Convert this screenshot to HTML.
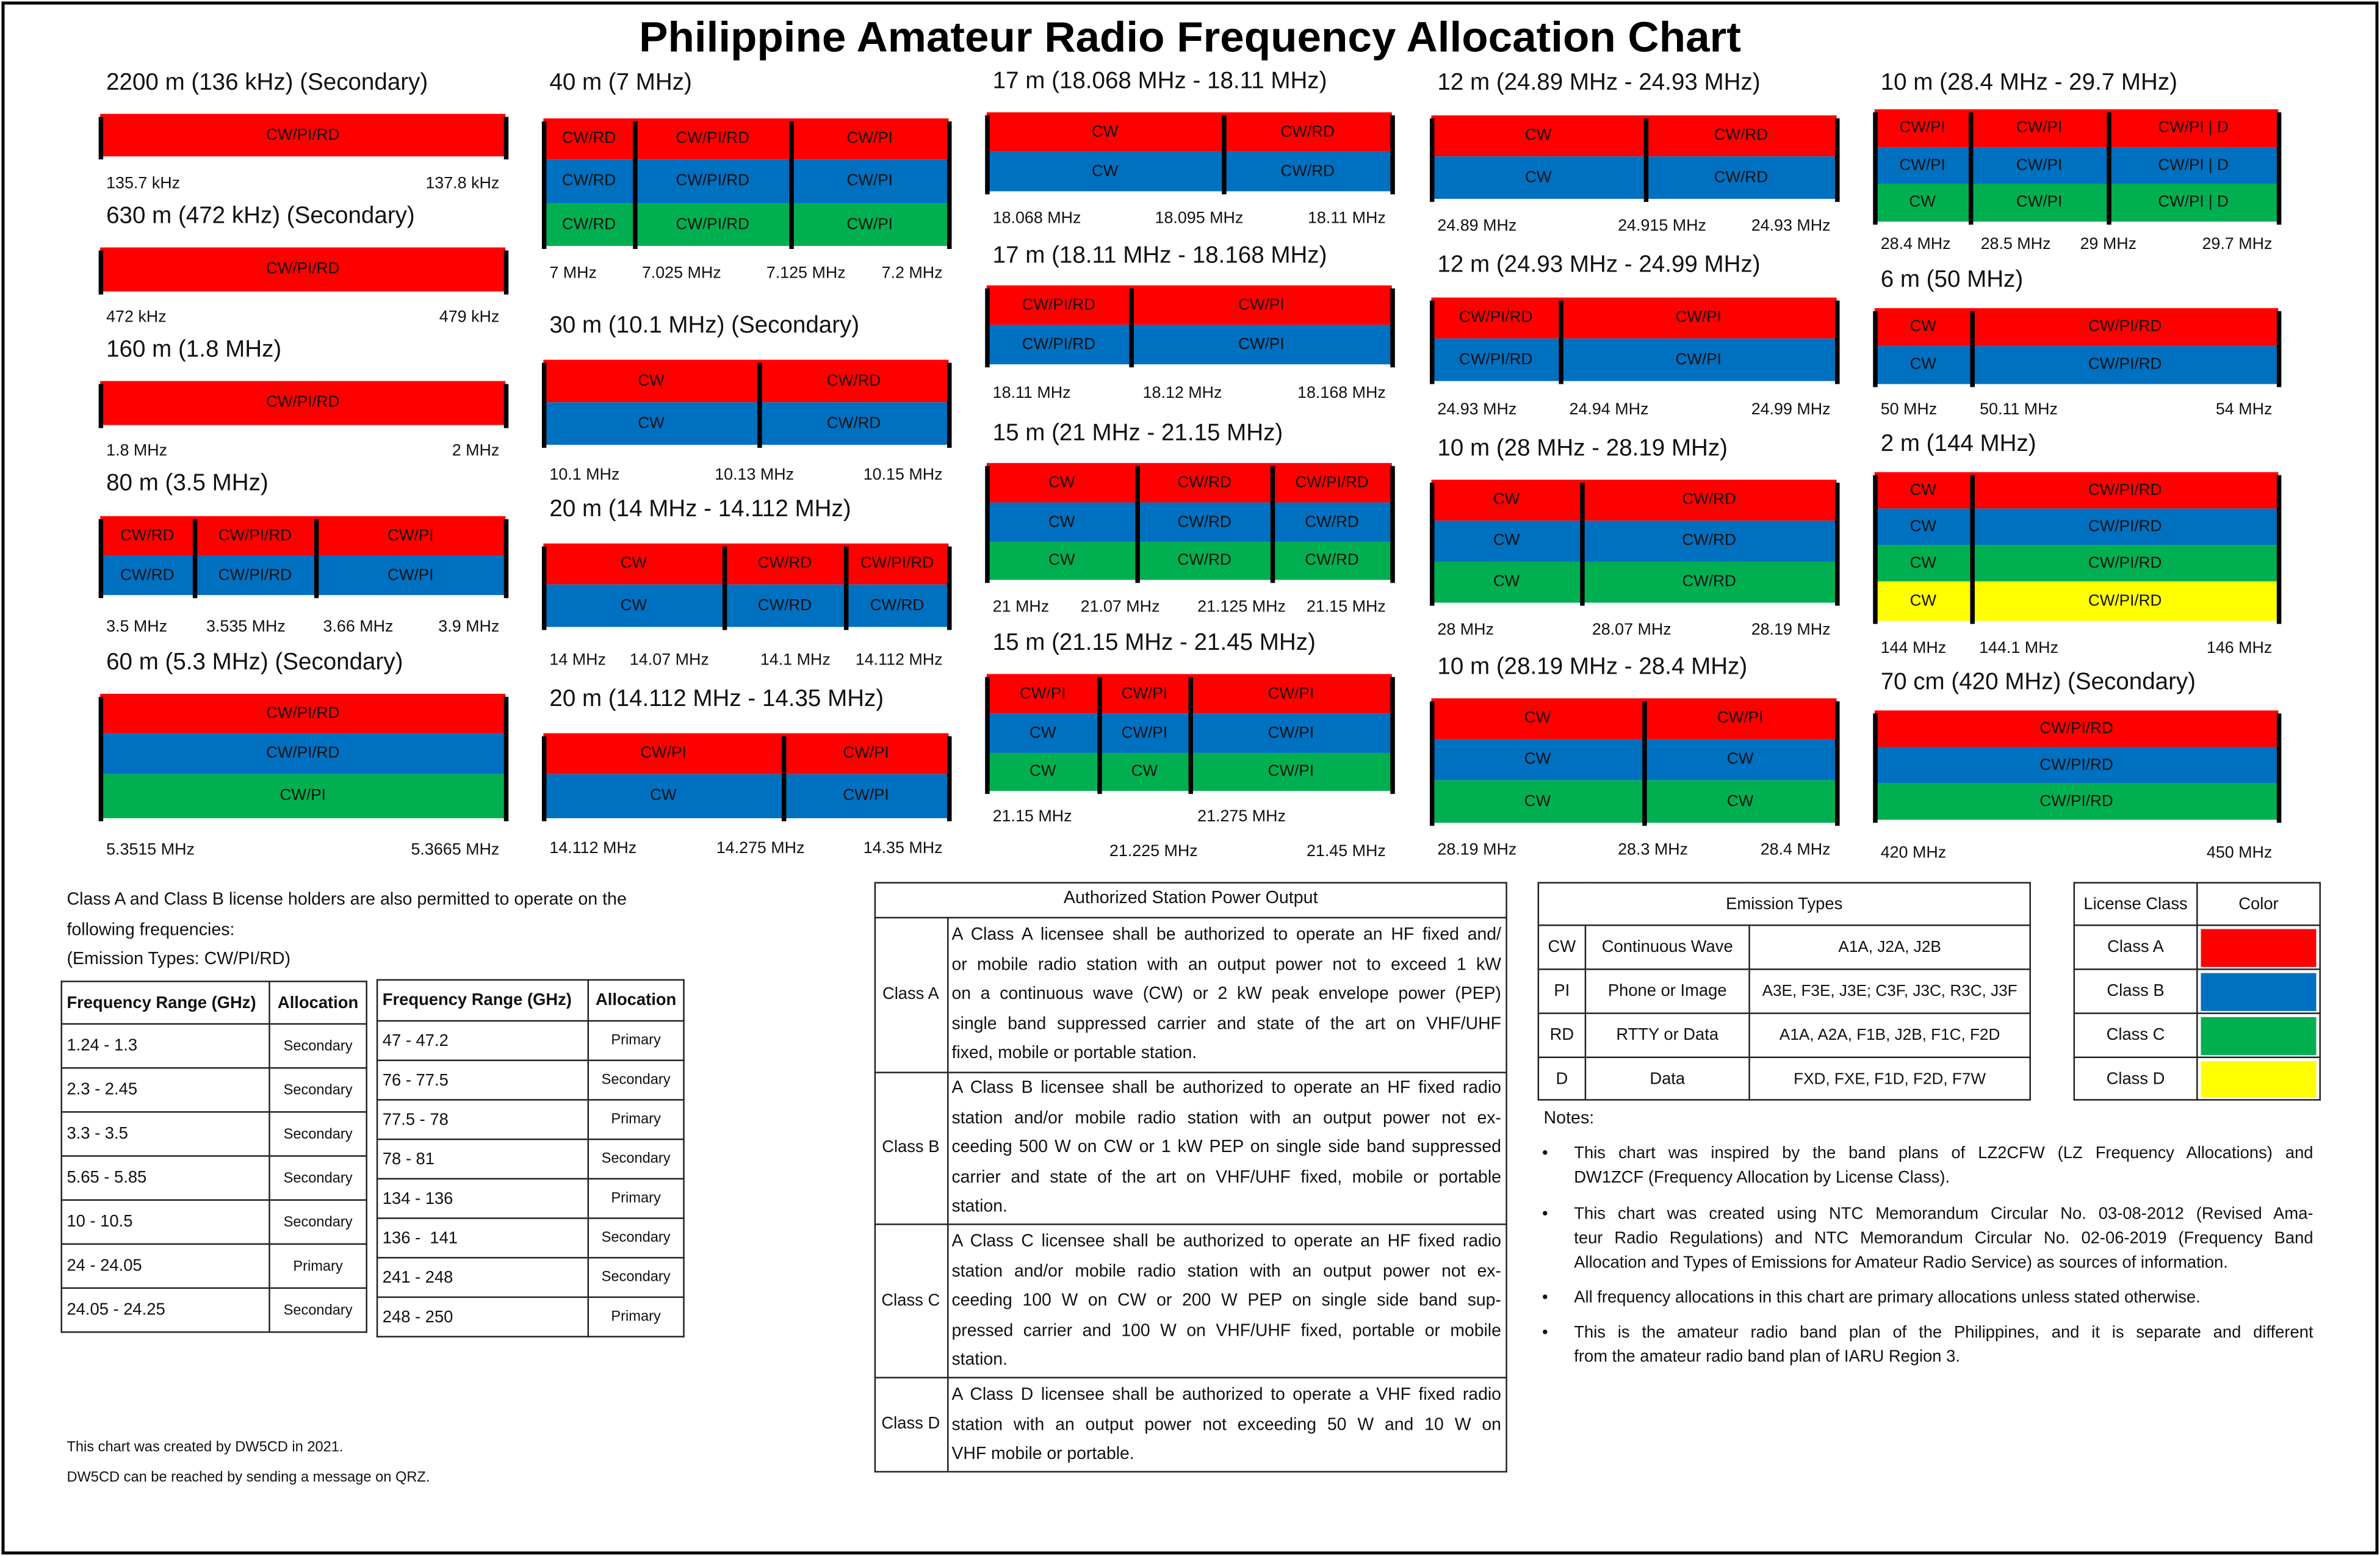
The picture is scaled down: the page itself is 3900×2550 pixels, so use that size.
<!DOCTYPE html>
<html><head><meta charset="utf-8">
<style>
html,body{margin:0;padding:0;background:#fff;}
body{width:3900px;height:2550px;overflow:hidden;position:relative;}
#stage{position:absolute;left:0;top:0;width:1568px;height:1025px;transform-origin:0 0;transform:scale(2.48724,2.4878);font-family:"Liberation Sans",sans-serif;color:#111;}
.a{position:absolute;white-space:nowrap;}
.t{position:absolute;white-space:nowrap;height:20px;line-height:20px;}
.j{text-align:justify;text-align-last:justify;}
table{border-collapse:collapse;position:absolute;}
td{border:1px solid #222;padding:0;}
</style></head>
<body>
<div id="stage">
<div class="a" style="left:1px;top:1px;width:1562px;height:1019px;border:2px solid #000;"></div>
<svg class="a" style="left:0;top:5px" width="1568" height="40"><text x="784" y="29" text-anchor="middle" font-family="Liberation Sans, sans-serif" font-weight="bold" font-size="28" textLength="726" lengthAdjust="spacingAndGlyphs" fill="#000">Philippine Amateur Radio Frequency Allocation Chart</text></svg>

<div class="t" style="left:44px;top:583px;font-size:11.5px">Class A and Class B license holders are also permitted to operate on the</div>
<div class="t" style="left:44px;top:603px;font-size:11.5px">following frequencies:</div>
<div class="t" style="left:44px;top:622px;font-size:11.5px">(Emission Types: CW/PI/RD)</div>

<table style="left:40px;top:646px;width:202px;font-size:11px">
<tr style="height:28px;font-weight:bold"><td style="padding-left:3px;width:133px">Frequency Range (GHz)</td><td style="text-align:center">Allocation</td></tr>
<tr style="height:29px"><td style="padding-left:3px">1.24 - 1.3</td><td style="text-align:center;font-size:9.5px">Secondary</td></tr>
<tr style="height:29px"><td style="padding-left:3px">2.3 - 2.45</td><td style="text-align:center;font-size:9.5px">Secondary</td></tr>
<tr style="height:29px"><td style="padding-left:3px">3.3 - 3.5</td><td style="text-align:center;font-size:9.5px">Secondary</td></tr>
<tr style="height:29px"><td style="padding-left:3px">5.65 - 5.85</td><td style="text-align:center;font-size:9.5px">Secondary</td></tr>
<tr style="height:29px"><td style="padding-left:3px">10 - 10.5</td><td style="text-align:center;font-size:9.5px">Secondary</td></tr>
<tr style="height:29px"><td style="padding-left:3px">24 - 24.05</td><td style="text-align:center;font-size:9.5px">Primary</td></tr>
<tr style="height:29px"><td style="padding-left:3px">24.05 - 24.25</td><td style="text-align:center;font-size:9.5px">Secondary</td></tr>
</table>

<table style="left:248px;top:645px;width:203px;font-size:11px">
<tr style="height:27px;font-weight:bold"><td style="padding-left:3px;width:135px">Frequency Range (GHz)</td><td style="text-align:center">Allocation</td></tr>
<tr style="height:26px"><td style="padding-left:3px">47 - 47.2</td><td style="text-align:center;font-size:9.5px">Primary</td></tr>
<tr style="height:26px"><td style="padding-left:3px">76 - 77.5</td><td style="text-align:center;font-size:9.5px">Secondary</td></tr>
<tr style="height:26px"><td style="padding-left:3px">77.5 - 78</td><td style="text-align:center;font-size:9.5px">Primary</td></tr>
<tr style="height:26px"><td style="padding-left:3px">78 - 81</td><td style="text-align:center;font-size:9.5px">Secondary</td></tr>
<tr style="height:26px"><td style="padding-left:3px">134 - 136</td><td style="text-align:center;font-size:9.5px">Primary</td></tr>
<tr style="height:26px"><td style="padding-left:3px">136 -&nbsp; 141</td><td style="text-align:center;font-size:9.5px">Secondary</td></tr>
<tr style="height:26px"><td style="padding-left:3px">241 - 248</td><td style="text-align:center;font-size:9.5px">Secondary</td></tr>
<tr style="height:26px"><td style="padding-left:3px">248 - 250</td><td style="text-align:center;font-size:9.5px">Primary</td></tr>
</table>

<div class="t" style="left:44px;top:944px;font-size:9.5px">This chart was created by DW5CD in 2021.</div>
<div class="t" style="left:44px;top:964px;font-size:9.5px">DW5CD can be reached by sending a message on QRZ.</div>

<div class="a" style="left:576px;top:581px;width:415px;height:387px;border:1px solid #222;"></div>
<div class="a" style="left:576px;top:604px;width:417px;height:1px;background:#222"></div>
<div class="a" style="left:576px;top:706px;width:417px;height:1px;background:#222"></div>
<div class="a" style="left:576px;top:806px;width:417px;height:1px;background:#222"></div>
<div class="a" style="left:576px;top:907px;width:417px;height:1px;background:#222"></div>
<div class="a" style="left:624px;top:604px;width:1px;height:365px;background:#222"></div>
<div class="t" style="left:576px;top:582px;width:417px;text-align:center;font-size:11.5px">Authorized Station Power Output</div>
<div class="t" style="left:576px;top:645px;width:48px;text-align:center;font-size:11px">Class A</div>
<div class="t" style="left:576px;top:746px;width:48px;text-align:center;font-size:11px">Class B</div>
<div class="t" style="left:576px;top:847px;width:48px;text-align:center;font-size:11px">Class C</div>
<div class="t" style="left:576px;top:928px;width:48px;text-align:center;font-size:11px">Class D</div>
<div id="powertext"></div>

<table style="left:1013px;top:581px;width:325px;font-size:11px">
<tr style="height:28px"><td colspan="3" style="text-align:center">Emission Types</td></tr>
<tr style="height:29px"><td style="width:30px;text-align:center">CW</td><td style="width:107px;text-align:center">Continuous Wave</td><td style="text-align:center;font-size:10.5px">A1A, J2A, J2B</td></tr>
<tr style="height:29px"><td style="text-align:center">PI</td><td style="text-align:center">Phone or Image</td><td style="text-align:center;font-size:10.5px">A3E, F3E, J3E; C3F, J3C, R3C, J3F</td></tr>
<tr style="height:29px"><td style="text-align:center">RD</td><td style="text-align:center">RTTY or Data</td><td style="text-align:center;font-size:10.5px">A1A, A2A, F1B, J2B, F1C, F2D</td></tr>
<tr style="height:28px"><td style="text-align:center">D</td><td style="text-align:center">Data</td><td style="text-align:center;font-size:10.5px">FXD, FXE, F1D, F2D, F7W</td></tr>
</table>

<table style="left:1366px;top:581px;width:163px;font-size:11px">
<tr style="height:28px"><td style="width:80px;text-align:center">License Class</td><td style="text-align:center">Color</td></tr>
<tr style="height:29px"><td style="text-align:center">Class A</td><td><div style="margin:1px 2px;height:25px;background:#ff0000"></div></td></tr>
<tr style="height:29px"><td style="text-align:center">Class B</td><td><div style="margin:1px 2px;height:25px;background:#0070c0"></div></td></tr>
<tr style="height:29px"><td style="text-align:center">Class C</td><td><div style="margin:1px 2px;height:25px;background:#00b050"></div></td></tr>
<tr style="height:28px"><td style="text-align:center">Class D</td><td><div style="margin:1px 2px;height:24px;background:#ffff00"></div></td></tr>
</table>

<div class="t" style="left:1017px;top:727px;font-size:11.5px">Notes:</div>
<div id="notes"></div>
<div id="bands"></div>
</div>

<script>
const R = "#ff0000", B = "#0070c0", G = "#00b050", Y = "#ffff00";
const bandTitles = [
 "2200 m (136 kHz) (Secondary)","630 m (472 kHz) (Secondary)","160 m (1.8 MHz)","80 m (3.5 MHz)","60 m (5.3 MHz) (Secondary)",
 "40 m (7 MHz)","30 m (10.1 MHz) (Secondary)","20 m (14 MHz - 14.112 MHz)","20 m (14.112 MHz - 14.35 MHz)",
 "17 m (18.068 MHz - 18.11 MHz)","17 m (18.11 MHz - 18.168 MHz)","15 m (21 MHz - 21.15 MHz)","15 m (21.15 MHz - 21.45 MHz)",
 "12 m (24.89 MHz - 24.93 MHz)","12 m (24.93 MHz - 24.99 MHz)","10 m (28 MHz - 28.19 MHz)","10 m (28.19 MHz - 28.4 MHz)",
 "10 m (28.4 MHz - 29.7 MHz)","6 m (50 MHz)","2 m (144 MHz)","70 cm (420 MHz) (Secondary)"
];
const bandCells = [
 [["CW/PI/RD"]],[["CW/PI/RD"]],[["CW/PI/RD"]],
 [["CW/RD","CW/PI/RD","CW/PI"],["CW/RD","CW/PI/RD","CW/PI"]],
 [["CW/PI/RD"],["CW/PI/RD"],["CW/PI"]],
 [["CW/RD","CW/PI/RD","CW/PI"],["CW/RD","CW/PI/RD","CW/PI"],["CW/RD","CW/PI/RD","CW/PI"]],
 [["CW","CW/RD"],["CW","CW/RD"]],
 [["CW","CW/RD","CW/PI/RD"],["CW","CW/RD","CW/RD"]],
 [["CW/PI","CW/PI"],["CW","CW/PI"]],
 [["CW","CW/RD"],["CW","CW/RD"]],
 [["CW/PI/RD","CW/PI"],["CW/PI/RD","CW/PI"]],
 [["CW","CW/RD","CW/PI/RD"],["CW","CW/RD","CW/RD"],["CW","CW/RD","CW/RD"]],
 [["CW/PI","CW/PI","CW/PI"],["CW","CW/PI","CW/PI"],["CW","CW","CW/PI"]],
 [["CW","CW/RD"],["CW","CW/RD"]],
 [["CW/PI/RD","CW/PI"],["CW/PI/RD","CW/PI"]],
 [["CW","CW/RD"],["CW","CW/RD"],["CW","CW/RD"]],
 [["CW","CW/PI"],["CW","CW"],["CW","CW"]],
 [["CW/PI","CW/PI","CW/PI | D"],["CW/PI","CW/PI","CW/PI | D"],["CW","CW/PI","CW/PI | D"]],
 [["CW","CW/PI/RD"],["CW","CW/PI/RD"]],
 [["CW","CW/PI/RD"],["CW","CW/PI/RD"],["CW","CW/PI/RD"],["CW","CW/PI/RD"]],
 [["CW/PI/RD"],["CW/PI/RD"],["CW/PI/RD"]]
];
const rowColors = [
 [R],[R],[R],[R,B],[R,B,G],[R,B,G],[R,B],[R,B],[R,B],[R,B],[R,B],[R,B,G],[R,B,G],[R,B],[R,B],[R,B,G],[R,B,G],[R,B,G],[R,B],[R,B,G,Y],[R,B,G]
];
const freqLabels = [
 ["135.7 kHz","137.8 kHz"],["472 kHz","479 kHz"],["1.8 MHz","2 MHz"],["3.5 MHz","3.535 MHz","3.66 MHz","3.9 MHz"],["5.3515 MHz","5.3665 MHz"],
 ["7 MHz","7.025 MHz","7.125 MHz","7.2 MHz"],["10.1 MHz","10.13 MHz","10.15 MHz"],["14 MHz","14.07 MHz","14.1 MHz","14.112 MHz"],["14.112 MHz","14.275 MHz","14.35 MHz"],
 ["18.068 MHz","18.095 MHz","18.11 MHz"],["18.11 MHz","18.12 MHz","18.168 MHz"],["21 MHz","21.07 MHz","21.125 MHz","21.15 MHz"],["21.15 MHz","21.225 MHz","21.275 MHz","21.45 MHz"],
 ["24.89 MHz","24.915 MHz","24.93 MHz"],["24.93 MHz","24.94 MHz","24.99 MHz"],["28 MHz","28.07 MHz","28.19 MHz"],["28.19 MHz","28.3 MHz","28.4 MHz"],
 ["28.4 MHz","28.5 MHz","29 MHz","29.7 MHz"],["50 MHz","50.11 MHz","54 MHz"],["144 MHz","144.1 MHz","146 MHz"],["420 MHz","450 MHz"]
];
const colX = [[66,333],[358,625],[650,917],[943,1210],[1235,1501]];
const layout = [
 {c:0,ty:55,rows:[75,103],div:[],lx:[null,null],ly:121},
 {c:0,ty:143,rows:[163,192],div:[],lx:[null,null],ly:209},
 {c:0,ty:231,rows:[251,280],div:[],lx:[null,null],ly:297},
 {c:0,ty:319,rows:[340,366,392],div:[128,208],lx:[null,162,236,null],ly:413},
 {c:0,ty:437,rows:[457,483,510,539],div:[],lx:[null,null],ly:560},
 {c:1,ty:55,rows:[78,105,134,162],div:[418,521],lx:[null,449,531,null],ly:180},
 {c:1,ty:215,rows:[237,265,293],div:[500],lx:[null,497,null],ly:313},
 {c:1,ty:336,rows:[358,385,413],div:[477,557],lx:[null,441,524,null],ly:435},
 {c:1,ty:461,rows:[483,510,539],div:[516],lx:[null,501,null],ly:559},
 {c:2,ty:54,rows:[74,100,126],div:[806],lx:[null,790,null],ly:144},
 {c:2,ty:169,rows:[188,214,240],div:[745],lx:[null,779,null],ly:259},
 {c:2,ty:286,rows:[305,331,357,382],div:[749,838],lx:[null,738,818,null],ly:400},
 {c:2,ty:424,rows:[444,470,496,521],div:[724,784],lx:[null,760,818,null],ly:538,lyAlt:[538,561,538,561]},
 {c:3,ty:55,rows:[76,103,131],div:[1084],lx:[null,1095,null],ly:149},
 {c:3,ty:175,rows:[196,223,251],div:[1028],lx:[null,1060,null],ly:270},
 {c:3,ty:296,rows:[316,343,370,397],div:[1042],lx:[null,1075,null],ly:415},
 {c:3,ty:440,rows:[460,487,514,542],div:[1083],lx:[null,1089,null],ly:560},
 {c:4,ty:55,rows:[72,97,121,146],div:[1298,1389],lx:[null,1328,1389,null],ly:161},
 {c:4,ty:185,rows:[203,228,253],div:[1299],lx:[null,1330,null],ly:270},
 {c:4,ty:293,rows:[311,335,359,383,409],div:[1299],lx:[null,1330,null],ly:427},
 {c:4,ty:450,rows:[468,492,516,540],div:[],lx:[null,null],ly:562}
];

const host = document.getElementById('bands');
function mk(parent, cls, css, text){
  const e=document.createElement('div');
  e.className=cls; e.style.cssText=css; if(text!==undefined) e.textContent=text;
  parent.appendChild(e); return e;
}
bandTitles.forEach((title,i)=>{
  const L=layout[i]; const x0=colX[L.c][0], x1=colX[L.c][1];
  const g=mk(host,'a','left:0;top:0;');
  
  
  const t=mk(g,'t','left:'+(x0+4)+'px;top:'+(L.ty-10)+'px;font-size:15.5px;',title);
  
  
  const edges=[x0].concat(L.div,[x1]);
  bandCells[i].forEach((cells,r)=>{
    const y0=L.rows[r], y1=L.rows[r+1];
    const row=mk(g,'a','left:'+x0+'px;top:'+y0+'px;width:'+(x1-x0)+'px;height:'+(y1-y0)+'px;background:'+rowColors[i][r]+';');
    
    
    cells.forEach((c,k)=>{
      const cx0=edges[k], cx1=edges[k+1];
      const ct=mk(g,'a','left:'+cx0+'px;top:'+y0+'px;width:'+(cx1-cx0)+'px;height:'+(y1-y0)+'px;line-height:'+(y1-y0)+'px;text-align:center;font-size:10.5px;color:#111;',c);
      
      
    });
  });
  const top=L.rows[0]+2, bot=L.rows[L.rows.length-1]+2;
  edges.forEach((ex,k)=>{
    const ln=mk(g,'a','left:'+(ex-1)+'px;top:'+top+'px;width:2.5px;height:'+(bot-top)+'px;background:#000;');
    
    
  });
  const labs=freqLabels[i];
  labs.forEach((s,k)=>{
    const y=(L.lyAlt?L.lyAlt[k]:L.ly)-10;
    let css;
    if(k===0) css='left:'+(x0+4)+'px;';
    else if(k===labs.length-1) css='left:'+(x1-204)+'px;width:200px;text-align:right;';
    else css='left:'+(L.lx[k]-60)+'px;width:120px;text-align:center;';
    const lb=mk(g,'t',css+'top:'+y+'px;font-size:10.8px;',s);
    
    
  });
});

const powerLines = [
 ["A Class A licensee shall be authorized to operate an HF fixed and/",616,1],
 ["or mobile radio station with an output power not to exceed 1 kW",636,1],
 ["on a continuous wave (CW) or 2 kW peak envelope power (PEP)",655,1],
 ["single band suppressed carrier and state of the art on VHF/UHF",675,1],
 ["fixed, mobile or portable station.",694,0],
 ["A Class B licensee shall be authorized to operate an HF fixed radio",717,1],
 ["station and/or mobile radio station with an output power not ex-",737,1],
 ["ceeding 500 W on CW or 1 kW PEP on single side band suppressed",756,1],
 ["carrier and state of the art on VHF/UHF fixed, mobile or portable",776,1],
 ["station.",795,0],
 ["A Class C licensee shall be authorized to operate an HF fixed radio",818,1],
 ["station and/or mobile radio station with an output power not ex-",838,1],
 ["ceeding 100 W on CW or 200 W PEP on single side band sup-",857,1],
 ["pressed carrier and 100 W on VHF/UHF fixed, portable or mobile",877,1],
 ["station.",896,0],
 ["A Class D licensee shall be authorized to operate a VHF fixed radio",919,1],
 ["station with an output power not exceeding 50 W and 10 W on",939,1],
 ["VHF mobile or portable.",958,0]
];
const ph=document.getElementById('powertext');
powerLines.forEach(p=>{
  const e=mk(ph,'t'+(p[2]?' j':''),'left:627px;width:362px;top:'+(p[1]-10)+'px;font-size:11.4px;white-space:normal;overflow:hidden;',p[0]);
  
  
});

const noteLines = [
 ["This chart was inspired by the band plans of LZ2CFW (LZ Frequency Allocations) and",760,1,1],
 ["DW1ZCF (Frequency Allocation by License Class).",776,0,0],
 ["This chart was created using NTC Memorandum Circular No. 03-08-2012 (Revised Ama-",800,1,1],
 ["teur Radio Regulations) and NTC Memorandum Circular No. 02-06-2019 (Frequency Band",816,1,0],
 ["Allocation and Types of Emissions for Amateur Radio Service) as sources of information.",832,0,0],
 ["All frequency allocations in this chart are primary allocations unless stated otherwise.",855,0,1],
 ["This is the amateur radio band plan of the Philippines, and it is separate and different",878,1,1],
 ["from the amateur radio band plan of IARU Region 3.",894,0,0]
];
const nh=document.getElementById('notes');
noteLines.forEach(n=>{
  const e=mk(nh,'t'+(n[2]?' j':''),'left:1037px;width:487px;top:'+(n[1]-10)+'px;font-size:11px;white-space:normal;overflow:hidden;',n[0]);
  
  
  if(n[3]){
    const b=mk(nh,'t','left:1016px;top:'+(n[1]-10)+'px;font-size:11px;','\u2022');
    
    
  }
});
</script>
</body></html>
